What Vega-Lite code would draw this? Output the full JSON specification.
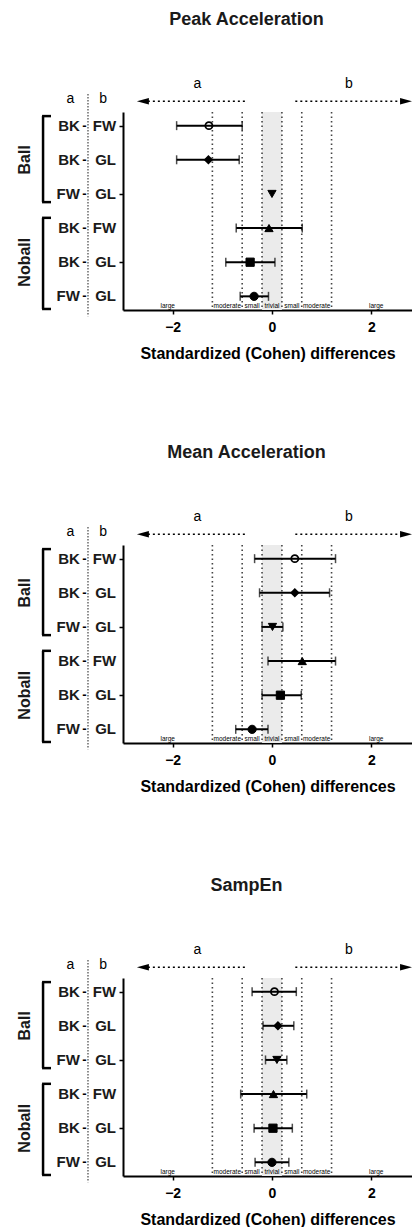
{
"$schema":"https://vega.github.io/schema/vega-lite/v6.json",
"background":"white",
"padding":{"left":17,"top":11,"right":0,"bottom":0},
"config":{"view":{"stroke":null},"font":"Liberation Sans","text":{"color":"black"}},
"spacing":83,
"datasets":{
"cohen":[
{"panel":"Peak Acceleration","group":"Ball","row":1,"a":"BK","b":"FW","d":-1.27,"lo":-1.92,"hi":-0.6},
{"panel":"Peak Acceleration","group":"Ball","row":2,"a":"BK","b":"GL","d":-1.28,"lo":-1.92,"hi":-0.66},
{"panel":"Peak Acceleration","group":"Ball","row":3,"a":"FW","b":"GL","d":0.0,"lo":null,"hi":null},
{"panel":"Peak Acceleration","group":"Noball","row":4,"a":"BK","b":"FW","d":-0.06,"lo":-0.72,"hi":0.61},
{"panel":"Peak Acceleration","group":"Noball","row":5,"a":"BK","b":"GL","d":-0.44,"lo":-0.93,"hi":0.06},
{"panel":"Peak Acceleration","group":"Noball","row":6,"a":"FW","b":"GL","d":-0.36,"lo":-0.64,"hi":-0.07},
{"panel":"Mean Acceleration","group":"Ball","row":1,"a":"BK","b":"FW","d":0.46,"lo":-0.35,"hi":1.28},
{"panel":"Mean Acceleration","group":"Ball","row":2,"a":"BK","b":"GL","d":0.46,"lo":-0.25,"hi":1.16},
{"panel":"Mean Acceleration","group":"Ball","row":3,"a":"FW","b":"GL","d":0.01,"lo":-0.2,"hi":0.22},
{"panel":"Mean Acceleration","group":"Noball","row":4,"a":"BK","b":"FW","d":0.61,"lo":-0.08,"hi":1.28},
{"panel":"Mean Acceleration","group":"Noball","row":5,"a":"BK","b":"GL","d":0.17,"lo":-0.2,"hi":0.59},
{"panel":"Mean Acceleration","group":"Noball","row":6,"a":"FW","b":"GL","d":-0.4,"lo":-0.73,"hi":-0.08},
{"panel":"SampEn","group":"Ball","row":1,"a":"BK","b":"FW","d":0.05,"lo":-0.4,"hi":0.49},
{"panel":"SampEn","group":"Ball","row":2,"a":"BK","b":"GL","d":0.12,"lo":-0.18,"hi":0.44},
{"panel":"SampEn","group":"Ball","row":3,"a":"FW","b":"GL","d":0.1,"lo":-0.13,"hi":0.3},
{"panel":"SampEn","group":"Noball","row":4,"a":"BK","b":"FW","d":0.03,"lo":-0.63,"hi":0.7},
{"panel":"SampEn","group":"Noball","row":5,"a":"BK","b":"GL","d":0.02,"lo":-0.36,"hi":0.41},
{"panel":"SampEn","group":"Noball","row":6,"a":"FW","b":"GL","d":0.0,"lo":-0.34,"hi":0.34}
],
"band":[{"lo":-0.2,"hi":0.2}],
"thresholds":[{"t":-1.2},{"t":-0.6},{"t":-0.2},{"t":0.2},{"t":0.6},{"t":1.2}],
"zones":[{"label":"large","c":-2.1},{"label":"moderate","c":-0.9},{"label":"small","c":-0.4},{"label":"trivial","c":0},{"label":"small","c":0.4},{"label":"moderate","c":0.9},{"label":"large","c":2.1}]
},
"vconcat":[
{"title":{"text":"Peak Acceleration","fontSize":18,"fontWeight":"bold","color":"#1a1a1a","anchor":"middle","frame":"group","dx":-21,"offset":48},
"width":289,"height":198,"data":{"values":[{}]},
"layer":[
{"data":{"name":"band"},"mark":{"type":"rect","fill":"#ebebeb"},"encoding":{"x":{"field":"lo","type":"quantitative","scale":{"domain":[-3,2.82],"nice":false,"zero":false},"axis":{"values":[-2,0,2],"title":"Standardized (Cohen) differences","titleFontSize":16,"titleFontWeight":"bold","titleColor":"black","labelFontSize":14,"labelFontWeight":"bold","labelColor":"black","domainColor":"black","domainWidth":2,"tickColor":"black","tickWidth":1.5,"tickSize":4,"labelPadding":6,"titlePadding":11,"grid":false,"labelFlush":false}},"x2":{"field":"hi"},"y":{"datum":0.6,"type":"quantitative","scale":{"domain":[0.6,6.4],"reverse":true,"nice":false,"zero":false},"axis":{"values":[1,2,3,4,5,6],"labels":false,"title":null,"domainColor":"black","domainWidth":2,"tickColor":"black","tickWidth":1.5,"tickSize":4,"grid":false}},"y2":{"datum":6.4}}},
{"data":{"name":"thresholds"},"mark":{"type":"rule","color":"#444","strokeDash":[1.5,3],"strokeWidth":1.6},"encoding":{"x":{"field":"t","type":"quantitative"},"y":{"datum":0.6,"type":"quantitative"},"y2":{"datum":6.4}}},
{"data":{"name":"zones"},"mark":{"type":"text","fontSize":6.5,"baseline":"bottom","dy":-1},"encoding":{"x":{"field":"c","type":"quantitative"},"y":{"datum":6.4,"type":"quantitative"},"text":{"field":"label"}}},
{"data":{"name":"cohen"},"transform":[{"filter":"datum.panel === 'Peak Acceleration'"}],"mark":{"type":"rule","color":"black","strokeWidth":2},"encoding":{"x":{"field":"lo","type":"quantitative"},"x2":{"field":"hi"},"y":{"field":"row","type":"quantitative"}}},
{"data":{"name":"cohen"},"transform":[{"filter":"datum.panel === 'Peak Acceleration'"},{"fold":["lo","hi"],"as":["end","v"]}],"mark":{"type":"tick","orient":"vertical","size":9,"thickness":1.5,"color":"black"},"encoding":{"x":{"field":"v","type":"quantitative"},"y":{"field":"row","type":"quantitative"}}},
{"data":{"name":"cohen"},"transform":[{"filter":"datum.panel === 'Peak Acceleration'"},{"filter":"datum.row <= 2"}],"mark":{"type":"point","filled":true,"stroke":"black","strokeWidth":1.8,"size":50,"opacity":1},"encoding":{"x":{"field":"d","type":"quantitative"},"y":{"field":"row","type":"quantitative"},"shape":{"field":"row","type":"ordinal","scale":{"domain":[1,2,3,4,5,6],"range":["circle","diamond","triangle-down","triangle-up","square","circle"]},"legend":null},"fill":{"field":"row","type":"ordinal","scale":{"domain":[1,2,3,4,5,6],"range":["transparent","black","black","black","black","black"]},"legend":null}}},
{"data":{"name":"cohen"},"transform":[{"filter":"datum.panel === 'Peak Acceleration'"},{"filter":"datum.row > 2"}],"mark":{"type":"point","filled":true,"stroke":"black","strokeWidth":1,"size":68,"opacity":1},"encoding":{"x":{"field":"d","type":"quantitative"},"y":{"field":"row","type":"quantitative"},"shape":{"field":"row","type":"ordinal","scale":{"domain":[1,2,3,4,5,6],"range":["circle","diamond","triangle-down","triangle-up","square","circle"]},"legend":null},"fill":{"field":"row","type":"ordinal","scale":{"domain":[1,2,3,4,5,6],"range":["transparent","black","black","black","black","black"]},"legend":null}}},
{"data":{"name":"cohen"},"transform":[{"filter":"datum.panel === 'Peak Acceleration'"}],"mark":{"type":"text","align":"right","baseline":"middle","fontSize":15,"fontWeight":"bold","color":"#1a1a1a"},"encoding":{"x":{"datum":-3.87,"type":"quantitative"},"y":{"field":"row","type":"quantitative"},"text":{"field":"a"}}},
{"data":{"name":"cohen"},"transform":[{"filter":"datum.panel === 'Peak Acceleration'"}],"mark":{"type":"text","align":"center","baseline":"middle","fontSize":13,"fontWeight":"bold"},"encoding":{"x":{"datum":-3.775,"type":"quantitative"},"y":{"field":"row","type":"quantitative"},"text":{"value":"-"}}},
{"data":{"name":"cohen"},"transform":[{"filter":"datum.panel === 'Peak Acceleration'"}],"mark":{"type":"text","align":"right","baseline":"middle","fontSize":15,"fontWeight":"bold","color":"#1a1a1a"},"encoding":{"x":{"datum":-3.14,"type":"quantitative"},"y":{"field":"row","type":"quantitative"},"text":{"field":"b"}}},
{"data":{"name":"cohen"},"transform":[{"filter":"datum.panel === 'Peak Acceleration'"},{"aggregate":[{"op":"mean","field":"row","as":"mid"}],"groupby":["group"]}],"mark":{"type":"text","angle":270,"align":"center","baseline":"middle","fontSize":16,"fontWeight":"bold","color":"#1a1a1a"},"encoding":{"x":{"datum":-4.97,"type":"quantitative"},"y":{"field":"mid","type":"quantitative"},"text":{"field":"group"}}},
{"mark":{"type":"rule","color":"#444","strokeDash":[1.5,1.5],"strokeWidth":1.2},"encoding":{"x":{"datum":-3.705,"type":"quantitative"},"y":{"datum":0.07,"type":"quantitative"},"y2":{"datum":6.58}}},
{"mark":{"type":"text","fontSize":14},"encoding":{"x":{"datum":-4.06,"type":"quantitative"},"y":{"datum":0.22,"type":"quantitative"},"text":{"value":"a"}}},
{"mark":{"type":"text","fontSize":14},"encoding":{"x":{"datum":-3.4,"type":"quantitative"},"y":{"datum":0.22,"type":"quantitative"},"text":{"value":"b"}}},
{"mark":{"type":"rule","color":"black","strokeWidth":2.5},"encoding":{"x":{"datum":-4.61,"type":"quantitative"},"y":{"datum":0.72,"type":"quantitative"},"y2":{"datum":3.24}}},
{"mark":{"type":"rule","color":"black","strokeWidth":2.5},"encoding":{"x":{"datum":-4.61,"type":"quantitative"},"y":{"datum":3.7,"type":"quantitative"},"y2":{"datum":6.37}}},
{"mark":{"type":"rule","color":"black","strokeWidth":2.5},"encoding":{"x":{"datum":-4.63,"type":"quantitative"},"x2":{"datum":-4.45},"y":{"datum":0.72,"type":"quantitative"}}},
{"mark":{"type":"rule","color":"black","strokeWidth":2.5},"encoding":{"x":{"datum":-4.63,"type":"quantitative"},"x2":{"datum":-4.45},"y":{"datum":3.24,"type":"quantitative"}}},
{"mark":{"type":"rule","color":"black","strokeWidth":2.5},"encoding":{"x":{"datum":-4.63,"type":"quantitative"},"x2":{"datum":-4.45},"y":{"datum":3.7,"type":"quantitative"}}},
{"mark":{"type":"rule","color":"black","strokeWidth":2.5},"encoding":{"x":{"datum":-4.63,"type":"quantitative"},"x2":{"datum":-4.45},"y":{"datum":6.37,"type":"quantitative"}}},
{"mark":{"type":"rule","color":"black","strokeDash":[2,3],"strokeWidth":1.5},"encoding":{"x":{"datum":-2.6,"type":"quantitative"},"x2":{"datum":-0.52},"y":{"datum":0.286,"type":"quantitative"}}},
{"mark":{"type":"rule","color":"black","strokeDash":[2,3],"strokeWidth":1.5},"encoding":{"x":{"datum":0.47,"type":"quantitative"},"x2":{"datum":2.7},"y":{"datum":0.286,"type":"quantitative"}}},
{"mark":{"type":"point","filled":true,"color":"black","opacity":1,"size":144,"shape":"M-1,0L1,-0.55L1,0.55Z"},"encoding":{"x":{"datum":-2.6,"type":"quantitative"},"y":{"datum":0.286,"type":"quantitative"}}},
{"mark":{"type":"point","filled":true,"color":"black","opacity":1,"size":144,"shape":"M1,0L-1,-0.55L-1,0.55Z"},"encoding":{"x":{"datum":2.7,"type":"quantitative"},"y":{"datum":0.286,"type":"quantitative"}}},
{"mark":{"type":"text","fontSize":14},"encoding":{"x":{"datum":-1.5,"type":"quantitative"},"y":{"datum":-0.22,"type":"quantitative"},"text":{"value":"a"}}},
{"mark":{"type":"text","fontSize":14},"encoding":{"x":{"datum":1.55,"type":"quantitative"},"y":{"datum":-0.22,"type":"quantitative"},"text":{"value":"b"}}}
]},
{"title":{"text":"Mean Acceleration","fontSize":18,"fontWeight":"bold","color":"#1a1a1a","anchor":"middle","frame":"group","dx":-21,"offset":48},
"width":289,"height":198,"data":{"values":[{}]},
"layer":[
{"data":{"name":"band"},"mark":{"type":"rect","fill":"#ebebeb"},"encoding":{"x":{"field":"lo","type":"quantitative","scale":{"domain":[-3,2.82],"nice":false,"zero":false},"axis":{"values":[-2,0,2],"title":"Standardized (Cohen) differences","titleFontSize":16,"titleFontWeight":"bold","titleColor":"black","labelFontSize":14,"labelFontWeight":"bold","labelColor":"black","domainColor":"black","domainWidth":2,"tickColor":"black","tickWidth":1.5,"tickSize":4,"labelPadding":6,"titlePadding":11,"grid":false,"labelFlush":false}},"x2":{"field":"hi"},"y":{"datum":0.6,"type":"quantitative","scale":{"domain":[0.6,6.4],"reverse":true,"nice":false,"zero":false},"axis":{"values":[1,2,3,4,5,6],"labels":false,"title":null,"domainColor":"black","domainWidth":2,"tickColor":"black","tickWidth":1.5,"tickSize":4,"grid":false}},"y2":{"datum":6.4}}},
{"data":{"name":"thresholds"},"mark":{"type":"rule","color":"#444","strokeDash":[1.5,3],"strokeWidth":1.6},"encoding":{"x":{"field":"t","type":"quantitative"},"y":{"datum":0.6,"type":"quantitative"},"y2":{"datum":6.4}}},
{"data":{"name":"zones"},"mark":{"type":"text","fontSize":6.5,"baseline":"bottom","dy":-1},"encoding":{"x":{"field":"c","type":"quantitative"},"y":{"datum":6.4,"type":"quantitative"},"text":{"field":"label"}}},
{"data":{"name":"cohen"},"transform":[{"filter":"datum.panel === 'Mean Acceleration'"}],"mark":{"type":"rule","color":"black","strokeWidth":2},"encoding":{"x":{"field":"lo","type":"quantitative"},"x2":{"field":"hi"},"y":{"field":"row","type":"quantitative"}}},
{"data":{"name":"cohen"},"transform":[{"filter":"datum.panel === 'Mean Acceleration'"},{"fold":["lo","hi"],"as":["end","v"]}],"mark":{"type":"tick","orient":"vertical","size":9,"thickness":1.5,"color":"black"},"encoding":{"x":{"field":"v","type":"quantitative"},"y":{"field":"row","type":"quantitative"}}},
{"data":{"name":"cohen"},"transform":[{"filter":"datum.panel === 'Mean Acceleration'"},{"filter":"datum.row <= 2"}],"mark":{"type":"point","filled":true,"stroke":"black","strokeWidth":1.8,"size":50,"opacity":1},"encoding":{"x":{"field":"d","type":"quantitative"},"y":{"field":"row","type":"quantitative"},"shape":{"field":"row","type":"ordinal","scale":{"domain":[1,2,3,4,5,6],"range":["circle","diamond","triangle-down","triangle-up","square","circle"]},"legend":null},"fill":{"field":"row","type":"ordinal","scale":{"domain":[1,2,3,4,5,6],"range":["transparent","black","black","black","black","black"]},"legend":null}}},
{"data":{"name":"cohen"},"transform":[{"filter":"datum.panel === 'Mean Acceleration'"},{"filter":"datum.row > 2"}],"mark":{"type":"point","filled":true,"stroke":"black","strokeWidth":1,"size":68,"opacity":1},"encoding":{"x":{"field":"d","type":"quantitative"},"y":{"field":"row","type":"quantitative"},"shape":{"field":"row","type":"ordinal","scale":{"domain":[1,2,3,4,5,6],"range":["circle","diamond","triangle-down","triangle-up","square","circle"]},"legend":null},"fill":{"field":"row","type":"ordinal","scale":{"domain":[1,2,3,4,5,6],"range":["transparent","black","black","black","black","black"]},"legend":null}}},
{"data":{"name":"cohen"},"transform":[{"filter":"datum.panel === 'Mean Acceleration'"}],"mark":{"type":"text","align":"right","baseline":"middle","fontSize":15,"fontWeight":"bold","color":"#1a1a1a"},"encoding":{"x":{"datum":-3.87,"type":"quantitative"},"y":{"field":"row","type":"quantitative"},"text":{"field":"a"}}},
{"data":{"name":"cohen"},"transform":[{"filter":"datum.panel === 'Mean Acceleration'"}],"mark":{"type":"text","align":"center","baseline":"middle","fontSize":13,"fontWeight":"bold"},"encoding":{"x":{"datum":-3.775,"type":"quantitative"},"y":{"field":"row","type":"quantitative"},"text":{"value":"-"}}},
{"data":{"name":"cohen"},"transform":[{"filter":"datum.panel === 'Mean Acceleration'"}],"mark":{"type":"text","align":"right","baseline":"middle","fontSize":15,"fontWeight":"bold","color":"#1a1a1a"},"encoding":{"x":{"datum":-3.14,"type":"quantitative"},"y":{"field":"row","type":"quantitative"},"text":{"field":"b"}}},
{"data":{"name":"cohen"},"transform":[{"filter":"datum.panel === 'Mean Acceleration'"},{"aggregate":[{"op":"mean","field":"row","as":"mid"}],"groupby":["group"]}],"mark":{"type":"text","angle":270,"align":"center","baseline":"middle","fontSize":16,"fontWeight":"bold","color":"#1a1a1a"},"encoding":{"x":{"datum":-4.97,"type":"quantitative"},"y":{"field":"mid","type":"quantitative"},"text":{"field":"group"}}},
{"mark":{"type":"rule","color":"#444","strokeDash":[1.5,1.5],"strokeWidth":1.2},"encoding":{"x":{"datum":-3.705,"type":"quantitative"},"y":{"datum":0.07,"type":"quantitative"},"y2":{"datum":6.58}}},
{"mark":{"type":"text","fontSize":14},"encoding":{"x":{"datum":-4.06,"type":"quantitative"},"y":{"datum":0.22,"type":"quantitative"},"text":{"value":"a"}}},
{"mark":{"type":"text","fontSize":14},"encoding":{"x":{"datum":-3.4,"type":"quantitative"},"y":{"datum":0.22,"type":"quantitative"},"text":{"value":"b"}}},
{"mark":{"type":"rule","color":"black","strokeWidth":2.5},"encoding":{"x":{"datum":-4.61,"type":"quantitative"},"y":{"datum":0.72,"type":"quantitative"},"y2":{"datum":3.24}}},
{"mark":{"type":"rule","color":"black","strokeWidth":2.5},"encoding":{"x":{"datum":-4.61,"type":"quantitative"},"y":{"datum":3.7,"type":"quantitative"},"y2":{"datum":6.37}}},
{"mark":{"type":"rule","color":"black","strokeWidth":2.5},"encoding":{"x":{"datum":-4.63,"type":"quantitative"},"x2":{"datum":-4.45},"y":{"datum":0.72,"type":"quantitative"}}},
{"mark":{"type":"rule","color":"black","strokeWidth":2.5},"encoding":{"x":{"datum":-4.63,"type":"quantitative"},"x2":{"datum":-4.45},"y":{"datum":3.24,"type":"quantitative"}}},
{"mark":{"type":"rule","color":"black","strokeWidth":2.5},"encoding":{"x":{"datum":-4.63,"type":"quantitative"},"x2":{"datum":-4.45},"y":{"datum":3.7,"type":"quantitative"}}},
{"mark":{"type":"rule","color":"black","strokeWidth":2.5},"encoding":{"x":{"datum":-4.63,"type":"quantitative"},"x2":{"datum":-4.45},"y":{"datum":6.37,"type":"quantitative"}}},
{"mark":{"type":"rule","color":"black","strokeDash":[2,3],"strokeWidth":1.5},"encoding":{"x":{"datum":-2.6,"type":"quantitative"},"x2":{"datum":-0.52},"y":{"datum":0.286,"type":"quantitative"}}},
{"mark":{"type":"rule","color":"black","strokeDash":[2,3],"strokeWidth":1.5},"encoding":{"x":{"datum":0.47,"type":"quantitative"},"x2":{"datum":2.7},"y":{"datum":0.286,"type":"quantitative"}}},
{"mark":{"type":"point","filled":true,"color":"black","opacity":1,"size":144,"shape":"M-1,0L1,-0.55L1,0.55Z"},"encoding":{"x":{"datum":-2.6,"type":"quantitative"},"y":{"datum":0.286,"type":"quantitative"}}},
{"mark":{"type":"point","filled":true,"color":"black","opacity":1,"size":144,"shape":"M1,0L-1,-0.55L-1,0.55Z"},"encoding":{"x":{"datum":2.7,"type":"quantitative"},"y":{"datum":0.286,"type":"quantitative"}}},
{"mark":{"type":"text","fontSize":14},"encoding":{"x":{"datum":-1.5,"type":"quantitative"},"y":{"datum":-0.22,"type":"quantitative"},"text":{"value":"a"}}},
{"mark":{"type":"text","fontSize":14},"encoding":{"x":{"datum":1.55,"type":"quantitative"},"y":{"datum":-0.22,"type":"quantitative"},"text":{"value":"b"}}}
]},
{"title":{"text":"SampEn","fontSize":18,"fontWeight":"bold","color":"#1a1a1a","anchor":"middle","frame":"group","dx":-21,"offset":48},
"width":289,"height":198,"data":{"values":[{}]},
"layer":[
{"data":{"name":"band"},"mark":{"type":"rect","fill":"#ebebeb"},"encoding":{"x":{"field":"lo","type":"quantitative","scale":{"domain":[-3,2.82],"nice":false,"zero":false},"axis":{"values":[-2,0,2],"title":"Standardized (Cohen) differences","titleFontSize":16,"titleFontWeight":"bold","titleColor":"black","labelFontSize":14,"labelFontWeight":"bold","labelColor":"black","domainColor":"black","domainWidth":2,"tickColor":"black","tickWidth":1.5,"tickSize":4,"labelPadding":6,"titlePadding":11,"grid":false,"labelFlush":false}},"x2":{"field":"hi"},"y":{"datum":0.6,"type":"quantitative","scale":{"domain":[0.6,6.4],"reverse":true,"nice":false,"zero":false},"axis":{"values":[1,2,3,4,5,6],"labels":false,"title":null,"domainColor":"black","domainWidth":2,"tickColor":"black","tickWidth":1.5,"tickSize":4,"grid":false}},"y2":{"datum":6.4}}},
{"data":{"name":"thresholds"},"mark":{"type":"rule","color":"#444","strokeDash":[1.5,3],"strokeWidth":1.6},"encoding":{"x":{"field":"t","type":"quantitative"},"y":{"datum":0.6,"type":"quantitative"},"y2":{"datum":6.4}}},
{"data":{"name":"zones"},"mark":{"type":"text","fontSize":6.5,"baseline":"bottom","dy":-1},"encoding":{"x":{"field":"c","type":"quantitative"},"y":{"datum":6.4,"type":"quantitative"},"text":{"field":"label"}}},
{"data":{"name":"cohen"},"transform":[{"filter":"datum.panel === 'SampEn'"}],"mark":{"type":"rule","color":"black","strokeWidth":2},"encoding":{"x":{"field":"lo","type":"quantitative"},"x2":{"field":"hi"},"y":{"field":"row","type":"quantitative"}}},
{"data":{"name":"cohen"},"transform":[{"filter":"datum.panel === 'SampEn'"},{"fold":["lo","hi"],"as":["end","v"]}],"mark":{"type":"tick","orient":"vertical","size":9,"thickness":1.5,"color":"black"},"encoding":{"x":{"field":"v","type":"quantitative"},"y":{"field":"row","type":"quantitative"}}},
{"data":{"name":"cohen"},"transform":[{"filter":"datum.panel === 'SampEn'"},{"filter":"datum.row <= 2"}],"mark":{"type":"point","filled":true,"stroke":"black","strokeWidth":1.8,"size":50,"opacity":1},"encoding":{"x":{"field":"d","type":"quantitative"},"y":{"field":"row","type":"quantitative"},"shape":{"field":"row","type":"ordinal","scale":{"domain":[1,2,3,4,5,6],"range":["circle","diamond","triangle-down","triangle-up","square","circle"]},"legend":null},"fill":{"field":"row","type":"ordinal","scale":{"domain":[1,2,3,4,5,6],"range":["transparent","black","black","black","black","black"]},"legend":null}}},
{"data":{"name":"cohen"},"transform":[{"filter":"datum.panel === 'SampEn'"},{"filter":"datum.row > 2"}],"mark":{"type":"point","filled":true,"stroke":"black","strokeWidth":1,"size":68,"opacity":1},"encoding":{"x":{"field":"d","type":"quantitative"},"y":{"field":"row","type":"quantitative"},"shape":{"field":"row","type":"ordinal","scale":{"domain":[1,2,3,4,5,6],"range":["circle","diamond","triangle-down","triangle-up","square","circle"]},"legend":null},"fill":{"field":"row","type":"ordinal","scale":{"domain":[1,2,3,4,5,6],"range":["transparent","black","black","black","black","black"]},"legend":null}}},
{"data":{"name":"cohen"},"transform":[{"filter":"datum.panel === 'SampEn'"}],"mark":{"type":"text","align":"right","baseline":"middle","fontSize":15,"fontWeight":"bold","color":"#1a1a1a"},"encoding":{"x":{"datum":-3.87,"type":"quantitative"},"y":{"field":"row","type":"quantitative"},"text":{"field":"a"}}},
{"data":{"name":"cohen"},"transform":[{"filter":"datum.panel === 'SampEn'"}],"mark":{"type":"text","align":"center","baseline":"middle","fontSize":13,"fontWeight":"bold"},"encoding":{"x":{"datum":-3.775,"type":"quantitative"},"y":{"field":"row","type":"quantitative"},"text":{"value":"-"}}},
{"data":{"name":"cohen"},"transform":[{"filter":"datum.panel === 'SampEn'"}],"mark":{"type":"text","align":"right","baseline":"middle","fontSize":15,"fontWeight":"bold","color":"#1a1a1a"},"encoding":{"x":{"datum":-3.14,"type":"quantitative"},"y":{"field":"row","type":"quantitative"},"text":{"field":"b"}}},
{"data":{"name":"cohen"},"transform":[{"filter":"datum.panel === 'SampEn'"},{"aggregate":[{"op":"mean","field":"row","as":"mid"}],"groupby":["group"]}],"mark":{"type":"text","angle":270,"align":"center","baseline":"middle","fontSize":16,"fontWeight":"bold","color":"#1a1a1a"},"encoding":{"x":{"datum":-4.97,"type":"quantitative"},"y":{"field":"mid","type":"quantitative"},"text":{"field":"group"}}},
{"mark":{"type":"rule","color":"#444","strokeDash":[1.5,1.5],"strokeWidth":1.2},"encoding":{"x":{"datum":-3.705,"type":"quantitative"},"y":{"datum":0.07,"type":"quantitative"},"y2":{"datum":6.58}}},
{"mark":{"type":"text","fontSize":14},"encoding":{"x":{"datum":-4.06,"type":"quantitative"},"y":{"datum":0.22,"type":"quantitative"},"text":{"value":"a"}}},
{"mark":{"type":"text","fontSize":14},"encoding":{"x":{"datum":-3.4,"type":"quantitative"},"y":{"datum":0.22,"type":"quantitative"},"text":{"value":"b"}}},
{"mark":{"type":"rule","color":"black","strokeWidth":2.5},"encoding":{"x":{"datum":-4.61,"type":"quantitative"},"y":{"datum":0.72,"type":"quantitative"},"y2":{"datum":3.24}}},
{"mark":{"type":"rule","color":"black","strokeWidth":2.5},"encoding":{"x":{"datum":-4.61,"type":"quantitative"},"y":{"datum":3.7,"type":"quantitative"},"y2":{"datum":6.37}}},
{"mark":{"type":"rule","color":"black","strokeWidth":2.5},"encoding":{"x":{"datum":-4.63,"type":"quantitative"},"x2":{"datum":-4.45},"y":{"datum":0.72,"type":"quantitative"}}},
{"mark":{"type":"rule","color":"black","strokeWidth":2.5},"encoding":{"x":{"datum":-4.63,"type":"quantitative"},"x2":{"datum":-4.45},"y":{"datum":3.24,"type":"quantitative"}}},
{"mark":{"type":"rule","color":"black","strokeWidth":2.5},"encoding":{"x":{"datum":-4.63,"type":"quantitative"},"x2":{"datum":-4.45},"y":{"datum":3.7,"type":"quantitative"}}},
{"mark":{"type":"rule","color":"black","strokeWidth":2.5},"encoding":{"x":{"datum":-4.63,"type":"quantitative"},"x2":{"datum":-4.45},"y":{"datum":6.37,"type":"quantitative"}}},
{"mark":{"type":"rule","color":"black","strokeDash":[2,3],"strokeWidth":1.5},"encoding":{"x":{"datum":-2.6,"type":"quantitative"},"x2":{"datum":-0.52},"y":{"datum":0.286,"type":"quantitative"}}},
{"mark":{"type":"rule","color":"black","strokeDash":[2,3],"strokeWidth":1.5},"encoding":{"x":{"datum":0.47,"type":"quantitative"},"x2":{"datum":2.7},"y":{"datum":0.286,"type":"quantitative"}}},
{"mark":{"type":"point","filled":true,"color":"black","opacity":1,"size":144,"shape":"M-1,0L1,-0.55L1,0.55Z"},"encoding":{"x":{"datum":-2.6,"type":"quantitative"},"y":{"datum":0.286,"type":"quantitative"}}},
{"mark":{"type":"point","filled":true,"color":"black","opacity":1,"size":144,"shape":"M1,0L-1,-0.55L-1,0.55Z"},"encoding":{"x":{"datum":2.7,"type":"quantitative"},"y":{"datum":0.286,"type":"quantitative"}}},
{"mark":{"type":"text","fontSize":14},"encoding":{"x":{"datum":-1.5,"type":"quantitative"},"y":{"datum":-0.22,"type":"quantitative"},"text":{"value":"a"}}},
{"mark":{"type":"text","fontSize":14},"encoding":{"x":{"datum":1.55,"type":"quantitative"},"y":{"datum":-0.22,"type":"quantitative"},"text":{"value":"b"}}}
]}
]
}
